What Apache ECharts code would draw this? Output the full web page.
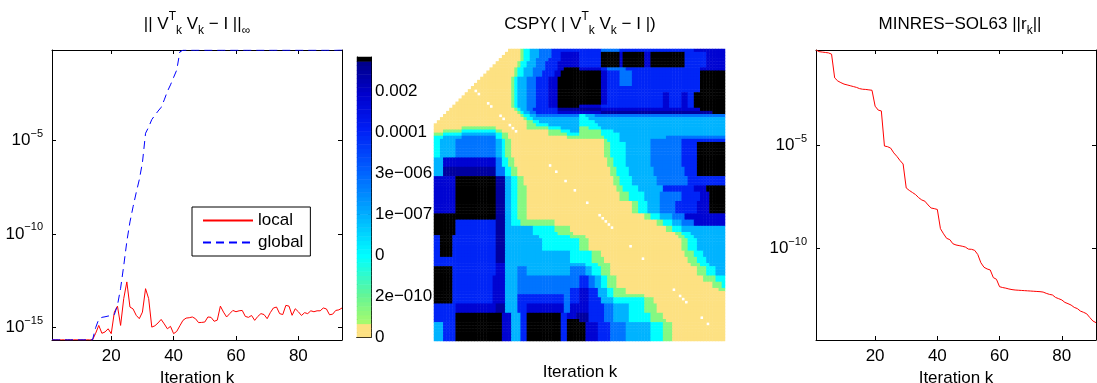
<!DOCTYPE html>
<html>
<head>
<meta charset="utf-8">
<script src="https://cdn.jsdelivr.net/npm/echarts@6/dist/echarts.min.js"></script>
<style>
  html, body { margin: 0; padding: 0; background: #fff; }
  #chart { width: 1097px; height: 383px; }
</style>
</head>
<body>
<div id="chart"></div>
<script>
const FONT = '"Liberation Sans", Arial, Helvetica, sans-serif';
const black = '#000';

// ====== left panel: log10 ||V_k^T V_k - I||, k = 1..94 ======
const localExp = [
  -15.65, -15.65, -15.65, -15.65, -15.65, -15.65, -15.65, -15.65, -15.65, -15.65,
  -15.65, -15.65, -15.65, -15.65, -15.3, -14.88, -15.3, -15.23, -15.06, -15.32,
  -14.17, -13.85, -14.88, -13.45, -12.56, -13.9, -14.0, -14.34, -14.52, -14.17,
  -12.92, -13.45, -14.97, -14.9, -14.75, -14.56, -14.8, -15.06, -14.93, -15.32,
  -15.2, -14.9, -14.61, -14.49, -14.47, -14.43, -14.52, -14.73, -14.72, -14.7,
  -14.43, -14.45, -14.66, -14.6, -13.85, -14.17, -14.43, -14.25, -14.08, -14.15,
  -14.1, -14.08, -14.4, -14.45, -14.35, -14.61, -14.4, -14.25, -14.3, -14.52,
  -14.2, -13.95, -13.9, -14.25, -14.3, -13.81, -13.85, -14.34, -13.99, -14.15,
  -14.35, -14.2, -14.25, -14.1, -14.15, -14.1, -14.1, -13.95, -14.0, -14.31,
  -14.28, -14.08, -14.05, -13.95
];
const globalExp = [
  -15.65, -15.65, -15.65, -15.65, -15.65, -15.65, -15.65, -15.65, -15.65, -15.65,
  -15.65, -15.65, -15.65, -15.65, -15.0, -14.55, -14.45, -14.42, -14.38, -14.36,
  -14.3, -13.8, -12.9, -11.7, -10.4, -9.36, -8.55, -7.8, -7.1, -6.2,
  -4.63, -4.3, -3.9, -3.67, -3.45, -3.25, -2.85, -2.4, -2.05, -1.65,
  -1.26, -0.29, -0.2, -0.2, -0.2, -0.2, -0.2, -0.2, -0.2, -0.2,
  -0.2, -0.2, -0.2, -0.2, -0.2, -0.2, -0.2, -0.2, -0.2, -0.2,
  -0.2, -0.2, -0.2, -0.2, -0.2, -0.2, -0.2, -0.2, -0.2, -0.2,
  -0.2, -0.2, -0.2, -0.2, -0.2, -0.2, -0.2, -0.2, -0.2, -0.2,
  -0.2, -0.2, -0.2, -0.2, -0.2, -0.2, -0.2, -0.2, -0.2, -0.2,
  -0.2, -0.2, -0.19, -0.19
];

// ====== right panel: log10 ||r_k||, k = 1..91 ======
const minresExp = [
  -0.40, -0.48, -0.50, -0.52, -0.54, -0.60, -1.75, -1.90, -1.98, -2.05,
  -2.09, -2.13, -2.17, -2.21, -2.27, -2.30, -2.31, -2.33, -2.35, -3.12,
  -3.31, -3.35, -5.05, -5.08, -5.15, -5.38, -5.55, -5.75, -5.92, -7.08,
  -7.2, -7.3, -7.4, -7.55, -7.66, -7.72, -7.9, -8.05, -8.08, -8.12,
  -9.05, -9.3, -9.52, -9.58, -9.78, -9.84, -9.87, -9.9, -9.94, -10.04,
  -10.05, -10.1, -10.3, -10.7, -10.92, -11.0, -11.05, -11.42, -11.5, -11.86,
  -11.9, -11.93, -11.97, -12.0, -12.02, -12.03, -12.04, -12.05, -12.06, -12.07,
  -12.08, -12.09, -12.1, -12.12, -12.18, -12.23, -12.26, -12.38, -12.44, -12.5,
  -12.62, -12.68, -12.75, -12.86, -12.92, -13.04, -13.1, -13.17, -13.35, -13.52,
  -13.6
];

const xTicks = [20, 40, 60, 80];
const leftYTicks = [1e-15, 1e-10, 1e-5];
const rightYTicks = [1e-10, 1e-5];
const leftYRange = [2.2e-16, 0.6457];
const rightYRange = [3.63e-15, 0.398];

// ====== colorbar tick labels (bottom to top) ======
const cbLabels = ['0', '2e\u2212010', '0', '1e\u2212007', '3e\u2212006', '0.0001', '0.002'];
const cbTicks = [0, 1, 2, 3, 4, 5, 6];

// ====== CSPY matrix, 94 x 94, rows top to bottom ======
// each band: [number of rows, runs "<level char><end column>"], '.' = empty
const cellLevel = { y: 0, g: 6, c: 18, l: 27, m: 35, b: 46, d: 54, n: 60, k: 63 };
const cspyBands = [
  [1, '.24 y28 g29 c31 l34 m38 b54 m60 b84 d94'],
  [1, '.23 y28 g29 c31 l34 m38 b41 d47 b54 k60 d61 k68 d70 k81 b88 d94'],
  [1, '.22 y28 g29 c31 l34 m38 b41 d47 b54 k60 d61 k68 d70 k81 b88 d94'],
  [1, '.21 y28 g29 c31 l33 m37 b41 d47 b54 k60 d61 k68 d70 k81 b88 d94'],
  [1, '.20 y27 g28 c30 l33 m36 b40 d47 b54 k60 d61 k68 d70 k81 b88 d94'],
  [1, '.19 y27 g28 c30 l33 m36 b40 d47 b54 k60 d61 k68 d70 k81 b88 d94'],
  [1, '.18 y26 g27 c29 l32 m36 b40 d42 k47 d54 b56 m62 b86 d94'],
  [1, '.17 y26 g27 c29 l32 m35 b39 d41 k54 d56 b60 m64 b86 k94'],
  [1, '.16 y26 g27 c29 l32 m35 b39 d41 k54 d56 b60 m64 b86 k94'],
  [1, '.15 y25 g26 c27 l30 m33 b37 d40 k54 d56 b60 m64 b86 k94'],
  [1, '.14 y25 g26 c27 l30 m33 b37 d40 k54 d56 b60 m64 b86 k94'],
  [1, '.13 y25 g26 c27 l30 m33 b37 d40 k54 d56 b60 m64 b86 k94'],
  [1, '.12 y25 g26 c27 l30 m33 b37 d40 k54 d56 b86 k94'],
  [1, '.11 y25 g26 c27 l30 m33 b37 d40 k54 d56 b86 k94'],
  [1, '.10 y25 g26 c27 l30 m33 b37 d40 k54 d56 b74 d76 b80 d82 b84 k94'],
  [1, '.9 y25 g26 c27 l30 m33 b37 d40 k54 d56 b74 d76 b80 d82 b84 k94'],
  [1, '.8 y25 g26 c27 l30 m33 b37 d40 k54 d56 b74 d76 b80 d82 b84 k94'],
  [1, '.7 y25 g26 c27 l30 m33 b37 d40 k54 d56 b74 d76 b80 d82 b84 k94'],
  [1, '.6 y25 g26 c27 l30 m33 b37 d40 k47 d54 b74 d76 b80 d82 b84 k94'],
  [1, '.5 y26 g27 c28 l30 m32 b40 n54 d86 k94'],
  [1, '.4 y27 g28 c29 l31 m33 b40 d54 n90 k94'],
  [1, '.3 y28 g29 c31 l33 m47 c49 l52 m94'],
  [1, '.2 y29 g30 c32 l47 c50 l94'],
  [1, '.1 y30 g32 c34 l47 c52 l94'],
  [1, 'y30 g33 c37 l47 c53 l94'],
  [1, 'y9 g20 y30 g37 c41 l47 g50 c54 l94'],
  [1, 'y3 g9 c20 g22 y37 g41 c44 l47 g54 c58 l94'],
  [1, 'g3 c9 l20 c22 g24 y37 g43 c47 g54 c60 l94'],
  [1, 'c3 l9 m20 c22 g24 y43 g55 c60 l75 m94'],
  [1, 'c2 l7 m20 l22 c23 g25 y55 g56 c60 l70 m80 b94'],
  [5, 'c2 l7 m20 l22 c23 g25 y55 g57 c62 l70 m80 b85 k94'],
  [3, 'l3 d20 m22 c24 g26 y56 g58 c62 l70 m80 b85 k94'],
  [3, 'l3 n20 m23 c25 g27 y57 g59 c63 l71 m81 b85 k94'],
  [3, 'd7 k20 n23 l25 c27 g29 y58 g60 c64 l72 m82 b94'],
  [2, 'd7 k20 n23 l25 c27 g30 y59 g61 c66 l74 b84 d88 k94'],
  [3, 'd7 k20 n23 l25 c27 g30 y60 g63 c68 l73 m80 b86 d89 k94'],
  [4, 'd7 k20 n23 l25 c27 g30 y64 g66 c69 l73 m78 b85 d89 k94'],
  [2, 'k20 n23 l25 c27 g30 y68 g70 c73 l77 m81 d94'],
  [2, 'k7 b20 n23 l25 c28 g39 y72 g74 c77 l80 m84 d94'],
  [2, 'k7 b20 n23 l32 c39 g44 y75 g77 c80 l94'],
  [1, 'k7 b20 n23 l32 c40 g45 y78 g80 c83 l94'],
  [1, 'b2 k6 b20 n23 l34 c44 g49 y79 g81 c84 l94'],
  [4, 'b2 k6 b20 n23 l35 c47 g50 y80 g82 c85 l94'],
  [2, 'b2 k6 b20 n23 l44 c51 g54 y81 g84 c87 l94'],
  [2, 'b20 n23 l44 c51 g55 y82 g85 c88 l94'],
  [1, 'b20 d23 l49 c53 g57 y83 g86 c89 l94'],
  [3, 'k6 b20 d23 l27 m30 l44 m49 l51 c54 g57 y85 g88 c91 l94'],
  [2, 'k6 b19 d23 l27 m47 b50 m52 l54 c56 g59 y87 g91 c94'],
  [2, 'k6 b19 d23 l27 m47 b50 m52 l54 c56 g59 y90 g93 c94'],
  [1, 'k6 b19 d23 l27 m44 b47 d50 b53 l56 c58 g62 y92 g94'],
  [1, 'k6 b19 d23 l27 m44 b47 d50 b53 l56 c58 g62 y94'],
  [1, 'k6 b19 d23 l27 b42 m44 b47 d50 b53 l56 c58 g68 y94'],
  [2, 'k6 b19 d23 l27 b42 m44 b47 d50 b54 l58 c68 g71 y94'],
  [3, 'b7 d20 n23 l27 b30 d42 m44 d50 b55 m58 l63 c68 g72 y94'],
  [2, 'b7 k22 d25 l28 b30 k41 b43 d46 n50 b55 m58 l63 c70 g74 y94'],
  [1, 'b7 k22 d25 l28 b30 k41 b43 k47 n50 b55 m58 l63 c70 g75 y94'],
  [6, 'l3 b7 k22 d25 l28 b30 k41 b43 k49 d53 b57 m62 l70 c74 g77 y94']
];
// diagonal entries that are exactly zero (not drawn)
const zeroDiag = [13, 14, 17, 18, 21, 22, 24, 25, 26, 37, 39, 42, 45, 49, 53, 54, 55, 56, 57, 63, 67, 77, 79, 80, 81, 86, 88];

// ---- build series data ----
const toPoints = exps => exps.map((e, i) => [i + 1, Math.pow(10, e)]);

const N = 94;
const cspyCells = [];
let row = 0;
cspyBands.forEach(([count, runs]) => {
  const cols = [];
  let start = 0;
  runs.split(' ').forEach(tok => {
    const end = +tok.slice(1);
    for (let c = start; c < end; c++) cols.push(tok[0]);
    start = end;
  });
  for (let i = 0; i < count; i++, row++) {
    cols.forEach((ch, c) => {
      if (ch === '.' || (c === row && zeroDiag.includes(row))) return;
      cspyCells.push([c, row, cellLevel[ch]]);
    });
  }
});
const idx = Array.from({ length: N }, (_, i) => String(i));

// colour map (64 levels, bottom = tiny, top = large)
const cmapStops = [
  [0, [253, 225, 130]], [2, [253, 225, 130]], [3, [165, 250, 110]], [9, [100, 245, 150]],
  [18, [0, 255, 255]], [28, [0, 170, 255]], [37, [0, 100, 255]], [47, [0, 30, 245]],
  [55, [0, 0, 205]], [62, [0, 0, 140]], [63, [0, 0, 0]]
];
const colormap = [];
for (let i = 0; i < 64; i++) {
  let j = 0;
  while (cmapStops[j + 1][0] < i) j++;
  const [a, ca] = cmapStops[j];
  const [b, cb] = cmapStops[j + 1];
  const t = (i - a) / (b - a);
  colormap.push('rgb(' + ca.map((v, q) => Math.round(v + (cb[q] - v) * t)).join(',') + ')');
}
const cbLevels = Array.from({ length: 64 }, (_, i) => String(i));

// ---- axes helpers ----
const labelStyle = { color: black, fontSize: 17, fontFamily: FONT };
const lineBlack = { color: black, width: 1 };

const powRich = {
  b: { fontSize: 17, fontFamily: FONT, color: black, lineHeight: 24 },
  s: { fontSize: 11, fontFamily: FONT, color: black, lineHeight: 10, verticalAlign: 'top' }
};
function powLabel(v) {
  const e = Math.round(Math.log10(v));
  return '{b|10}{s|' + (e < 0 ? '\u2212' + (-e) : e) + '}';
}

function frameX(grid, max, pos, withLabels) {
  return {
    gridIndex: grid, type: 'value', position: pos, min: 1, max: max,
    axisLine: { show: true, onZero: false, lineStyle: lineBlack },
    axisTick: { show: true, inside: true, length: 4, customValues: xTicks, lineStyle: lineBlack },
    axisLabel: withLabels ? { show: true, customValues: xTicks, margin: 8, ...labelStyle } : { show: false },
    splitLine: { show: false },
    name: withLabels ? 'Iteration k' : '',
    nameLocation: 'middle', nameGap: 27,
    nameTextStyle: { ...labelStyle, verticalAlign: 'top' }
  };
}
function frameY(grid, range, ticks, pos, withLabels) {
  return {
    gridIndex: grid, type: 'log', logBase: 10, position: pos, min: range[0], max: range[1],
    axisLine: { show: true, onZero: false, lineStyle: lineBlack },
    axisTick: { show: true, inside: true, length: 4, customValues: ticks, lineStyle: lineBlack },
    minorTick: { show: false },
    axisLabel: withLabels
      ? { show: true, customValues: ticks, margin: 9, formatter: powLabel, rich: powRich }
      : { show: false },
    splitLine: { show: false }
  };
}

const titleRich = {
  n: { fontSize: 17, fontFamily: FONT, fill: black, lineHeight: 26 },
  sup: { fontSize: 12, fontFamily: FONT, fill: black, lineHeight: 14, verticalAlign: 'top' },
  sub: { fontSize: 12, fontFamily: FONT, fill: black, lineHeight: 12, verticalAlign: 'bottom' }
};
function titleText(x, text) {
  return {
    type: 'text', x: x, y: 24,
    style: { text: text, rich: titleRich, align: 'center', verticalAlign: 'middle',
             fontSize: 17, fontFamily: FONT, fill: black }
  };
}

const chart = echarts.init(document.getElementById('chart'));
chart.setOption({
  animation: false,
  backgroundColor: '#fff',
  textStyle: { fontFamily: FONT },
  grid: [
    { left: 52, top: 50, width: 290, height: 290, outerBoundsMode: 'none' },
    { left: 357, top: 57, width: 14, height: 280, outerBoundsMode: 'none' },
    { left: 434, top: 49, width: 291, height: 292, outerBoundsMode: 'none' },
    { left: 816, top: 50, width: 280, height: 290, outerBoundsMode: 'none' }
  ],
  xAxis: [
    frameX(0, 94, 'bottom', true),
    frameX(0, 94, 'top', false),
    { gridIndex: 1, type: 'category', data: [''], position: 'bottom',
      axisLine: { show: true, lineStyle: lineBlack }, axisTick: { show: false }, axisLabel: { show: false } },
    { gridIndex: 1, type: 'category', data: [''], position: 'top',
      axisLine: { show: true, lineStyle: lineBlack }, axisTick: { show: false }, axisLabel: { show: false } },
    { gridIndex: 2, type: 'category', data: idx, show: false },
    frameX(3, 91, 'bottom', true),
    frameX(3, 91, 'top', false)
  ],
  yAxis: [
    frameY(0, leftYRange, leftYTicks, 'left', true),
    frameY(0, leftYRange, leftYTicks, 'right', false),
    { gridIndex: 1, type: 'category', data: cbLevels, show: false },
    { gridIndex: 1, type: 'value', position: 'right', min: 0, max: 6.83,
      axisLine: { show: true, lineStyle: lineBlack },
      axisTick: { show: true, inside: true, length: 3, customValues: cbTicks, lineStyle: lineBlack },
      axisLabel: { show: true, customValues: cbTicks, margin: 4, ...labelStyle,
                   formatter: v => cbLabels[Math.round(v)] },
      splitLine: { show: false } },
    { gridIndex: 1, type: 'value', position: 'left', min: 0, max: 6.83,
      axisLine: { show: true, lineStyle: lineBlack },
      axisTick: { show: true, inside: true, length: 3, customValues: cbTicks, lineStyle: lineBlack },
      axisLabel: { show: false }, splitLine: { show: false } },
    { gridIndex: 2, type: 'category', data: idx, inverse: true, show: false },
    frameY(3, rightYRange, rightYTicks, 'left', true),
    frameY(3, rightYRange, rightYTicks, 'right', false)
  ],
  legend: {
    data: ['local', 'global'],
    orient: 'vertical', left: 192, top: 207,
    padding: [5, 7, 5, 10], itemGap: 5, itemWidth: 50, itemHeight: 17,
    backgroundColor: '#fff', borderColor: black, borderWidth: 1, borderRadius: 0,
    itemStyle: { opacity: 0 },
    textStyle: { ...labelStyle, padding: [0, 0, 0, 0] },
    selectedMode: false
  },
  visualMap: {
    type: 'continuous', show: false, min: 0, max: 63, dimension: 2,
    seriesIndex: [2, 3], inRange: { color: colormap }
  },
  graphic: [
    titleText(197, '{n|\u007c\u007c V}{sup|T}{sub|k}{n| V}{sub|k}{n| \u2212 I \u007c\u007c}{sub|\u221e}'),
    titleText(580, '{n|CSPY( \u007c V}{sup|T}{sub|k}{n| V}{sub|k}{n| \u2212 I \u007c)}'),
    titleText(960, '{n|MINRES\u2212SOL63 \u007c\u007cr}{sub|k}{n|\u007c\u007c}'),
    { type: 'text', x: 580, y: 372,
      style: { text: 'Iteration k', align: 'center', verticalAlign: 'middle',
               fontSize: 17, fontFamily: FONT, fill: black } }
  ],
  series: [
    { name: 'local', type: 'line', xAxisIndex: 0, yAxisIndex: 0, data: toPoints(localExp),
      symbol: 'none', lineStyle: { color: '#ff0000', width: 1 }, itemStyle: { color: '#ff0000' } },
    { name: 'global', type: 'line', xAxisIndex: 0, yAxisIndex: 0, data: toPoints(globalExp),
      symbol: 'none', lineStyle: { color: '#0000ff', width: 1, type: [8, 5] }, itemStyle: { color: '#0000ff' } },
    { name: 'colorbar', type: 'heatmap', xAxisIndex: 2, yAxisIndex: 2,
      data: cbLevels.map((_, i) => [0, i, i]), silent: true, progressive: 0,
      itemStyle: { borderWidth: 0 }, emphasis: { disabled: true } },
    { name: 'cspy', type: 'heatmap', xAxisIndex: 4, yAxisIndex: 5,
      data: cspyCells, silent: true, progressive: 0,
      itemStyle: { borderWidth: 0 }, emphasis: { disabled: true } },
    { name: 'minres', type: 'line', xAxisIndex: 5, yAxisIndex: 6, data: toPoints(minresExp),
      symbol: 'none', lineStyle: { color: '#ff0000', width: 1 }, itemStyle: { color: '#ff0000' } }
  ]
});
</script>
</body>
</html>
